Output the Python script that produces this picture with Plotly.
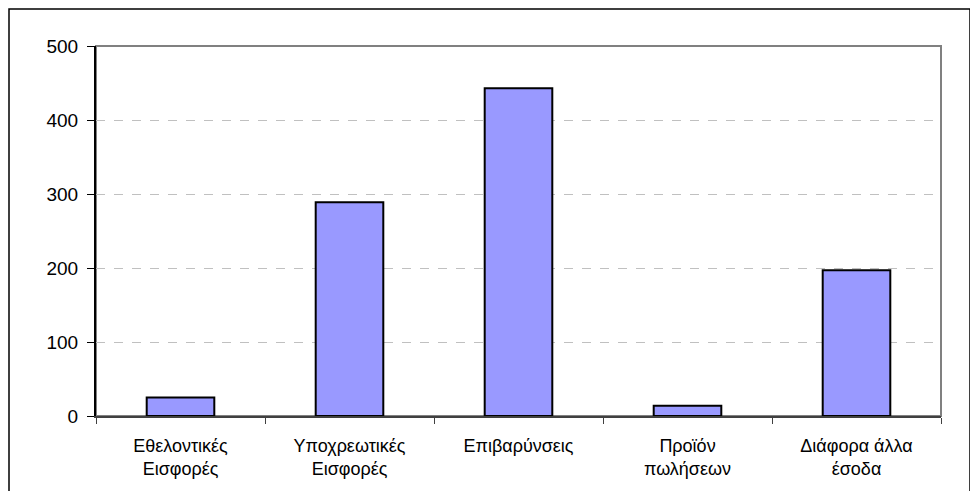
import plotly.graph_objects as go

categories = ["Εθελοντικές<br>Εισφορές", "Υποχρεωτικές<br>Εισφορές", "Επιβαρύνσεις",
              "Προϊόν<br>πωλήσεων", "Διάφορα άλλα<br>έσοδα"]
values = [25, 289, 443, 14, 197]
y_ticks = [0, 100, 200, 300, 400, 500]

# page has an 8px body margin; figure is laid out in its own coordinates
W, H = 970, 483
L, R, T, B = 88, 37, 38, 75
pw, ph = W - L - R, H - T - B

fig = go.Figure()
fig.add_trace(go.Bar(
    x=categories, y=values,
    marker=dict(color="#9999FF", line=dict(color="black", width=2)),
    width=0.4,
))

fig.update_layout(
    width=W, height=H,
    margin=dict(l=L, r=R, t=T, b=B, pad=0),
    plot_bgcolor="white", paper_bgcolor="white",
    showlegend=False,
    font=dict(family="Liberation Sans, Arial, sans-serif", size=18, color="black"),
    xaxis=dict(
        showline=True, linecolor="#404040", linewidth=2,
        ticks="outside", ticklen=6, tickcolor="#404040", tickwidth=1,
        tickson="boundaries", showgrid=False,
        tickfont=dict(size=18), ticklabelstandoff=12,
    ),
    yaxis=dict(
        range=[0, 500], tickvals=y_ticks,
        showline=True, linecolor="black", linewidth=2,
        ticks="outside", ticklen=7, tickcolor="black", tickwidth=1,
        showgrid=True, gridcolor="#C0C0C0", gridwidth=1, griddash="dash",
        zeroline=False, tickfont=dict(size=19), ticklabelstandoff=5,
    ),
    shapes=[
        dict(type="rect", xref="paper", yref="paper", x0=0, x1=1, y0=0, y1=1,
             line=dict(color="#808080", width=2), layer="below"),
        dict(type="rect", xref="paper", yref="paper",
             x0=(1 - L) / pw, x1=(962 - L) / pw,
             y0=(T + ph - 520) / ph, y1=(T + ph - 1) / ph,
             line=dict(color="black", width=1.5), layer="below"),
    ],
)

fig.write_html("out.html")
